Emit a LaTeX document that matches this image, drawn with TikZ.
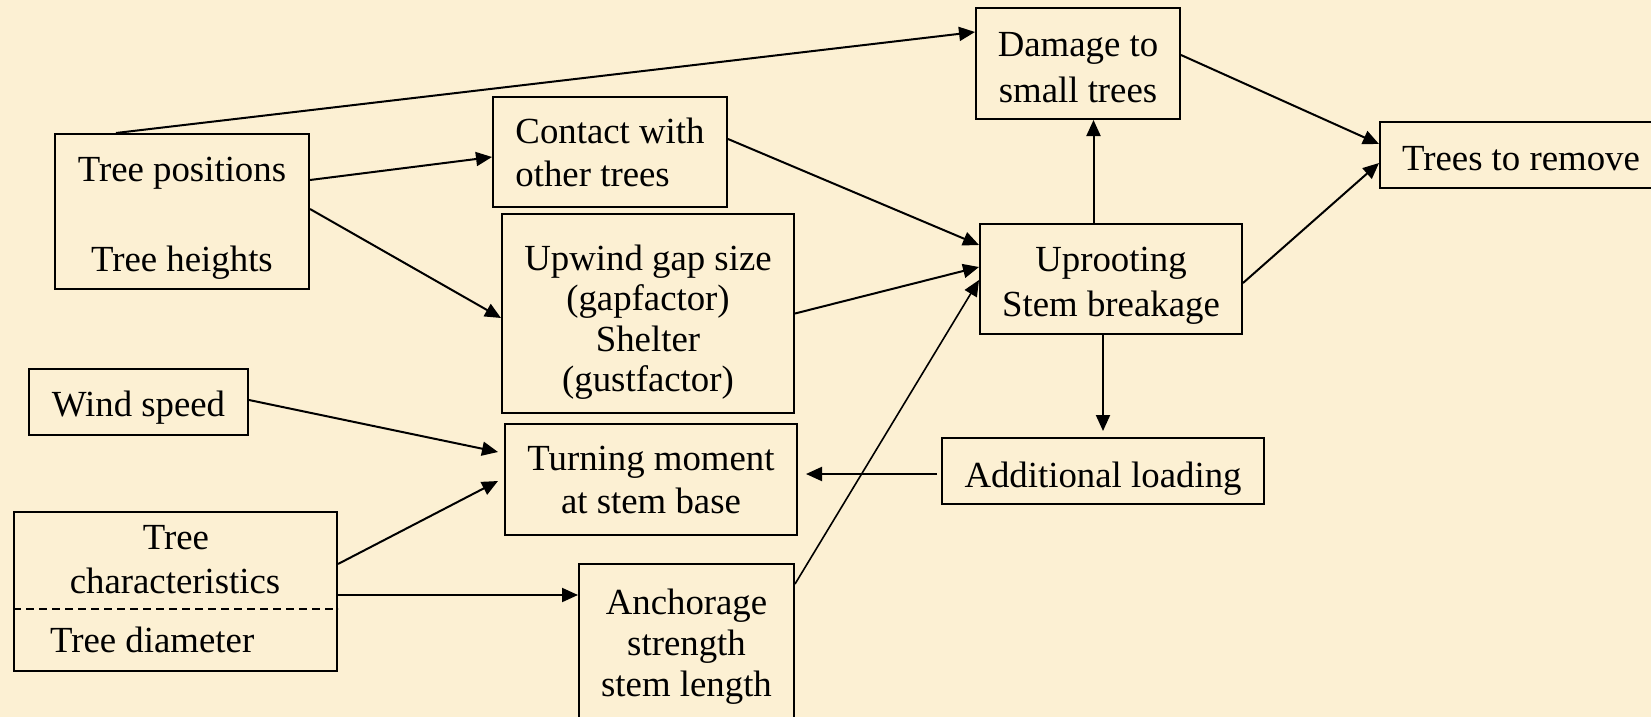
\documentclass[tikz,border=0pt]{standalone}
\usepackage{fontspec}
\setmainfont{Liberation Serif}
\usetikzlibrary{arrows.meta,calc}
\definecolor{bg}{RGB}{252,240,211}
\newcommand{\lift}[1]{\rule{0pt}{#1pt}}
\begin{document}
\begin{tikzpicture}[x=1pt,y=-1pt,
  box/.style={draw=black, line width=2pt, inner sep=0pt, align=center, font=\fontsize{36.8}{43}\selectfont},
  arr/.style={line width=2pt, -{Triangle[length=16pt,width=14pt]}},
  txt/.style={inner sep=0pt, font=\fontsize{36.8}{43}\selectfont}]
\useasboundingbox (0,0) rectangle (1651,717);
\fill[bg] (0,0) rectangle (1651,717);
\begin{scope}
\clip (0,0) rectangle (1651,717);
% boxes
\node[box, minimum width=254pt, minimum height=155pt] (treepos) at (182,211.5) {\lift{38}Tree positions\\[47pt]Tree heights};
\node[box, align=left, minimum width=234pt, minimum height=110pt] (contact) at (610,152) {Contact with\\other trees};
\node[box, font=\fontsize{36.8}{40.5}\selectfont, minimum width=292pt, minimum height=199pt] (upwind) at (648,313.5) {\lift{43}Upwind gap size\\(gapfactor)\\Shelter\\(gustfactor)};
\node[box, font=\fontsize{36.8}{45.5}\selectfont, minimum width=204pt, minimum height=111pt] (damage) at (1078,63.5) {\lift{32.6}Damage to\\small trees};
\node[box, minimum width=282pt, minimum height=66pt] (remove) at (1521,155) {\lift{31}Trees to remove};
\node[box, font=\fontsize{36.8}{45}\selectfont, minimum width=262pt, minimum height=110pt] (uproot) at (1111,279) {\lift{38}Uprooting\\Stem breakage};
\node[box, minimum width=219pt, minimum height=66pt] (wind) at (138.5,402) {\lift{37}Wind speed};
\node[box, minimum width=292pt, minimum height=111pt] (turning) at (651,479.5) {Turning moment\\at stem base};
\node[box, minimum width=322pt, minimum height=66pt] (additional) at (1103,471) {\lift{40}Additional loading};
\node[box, font=\fontsize{36.8}{41.3}\selectfont, minimum width=215pt, minimum height=165pt] (anchor) at (686.5,646.5) {Anchorage\\strength\\stem length};
\node[box, minimum width=323pt, minimum height=159pt] (treechar) at (175.5,591.5) {};
\node[txt, anchor=base] (tc1) at (176,549) {Tree};
\node[txt, anchor=base] (tc2) at (175,593) {characteristics};
\node[txt, anchor=base west] (tc3) at (50,652) {Tree diameter};
\draw[dashed, line width=1.5pt, dash pattern=on 8pt off 5pt] ([yshift=-17.5pt]treechar.west) -- ([yshift=-17.5pt]treechar.east);
% connectors
\draw[arr] ([xshift=62pt]treepos.north west) -- ([yshift=31.5pt]damage.west);
\draw[arr] ([yshift=31.5pt]treepos.east) -- ([yshift=-5pt]contact.west);
\draw[arr] ([yshift=2.5pt]treepos.east) -- ([yshift=-4.5pt]upwind.west);
\draw[arr] ([yshift=13pt]contact.east) -- ([yshift=34pt]uproot.west);
\draw[arr] (upwind.east) -- ([yshift=12pt]uproot.west);
\draw[arr, line width=1.6pt] ([yshift=-21pt]anchor.north east) -- ([yshift=-1pt]uproot.west);
\draw[arr] ([xshift=-17.5pt]uproot.north) coordinate (u1) -- (u1 |- damage.south);
\draw[arr] (uproot.south -| additional.north) -- ([yshift=6pt]additional.north);
\draw[arr] ([xshift=-4pt,yshift=-3pt]additional.west) coordinate (a1) -- ($(a1 -| turning.east)+(8,0)$);
\draw[arr] ([yshift=8.5pt]damage.east) -- ([yshift=11pt]remove.west);
\draw[arr] ([yshift=-4pt]uproot.east) -- ([yshift=-8pt]remove.west);
\draw[arr] ([yshift=2pt]wind.east) -- ([xshift=-6pt,yshift=27.5pt]turning.west);
\draw[arr] ([yshift=27.5pt]treechar.east) -- ([xshift=-6pt,yshift=-1.5pt]turning.west);
\draw[arr] ([yshift=-3.5pt]treechar.east) coordinate (t1) -- (t1 -| anchor.west);
\end{scope}
\end{tikzpicture}
\end{document}
